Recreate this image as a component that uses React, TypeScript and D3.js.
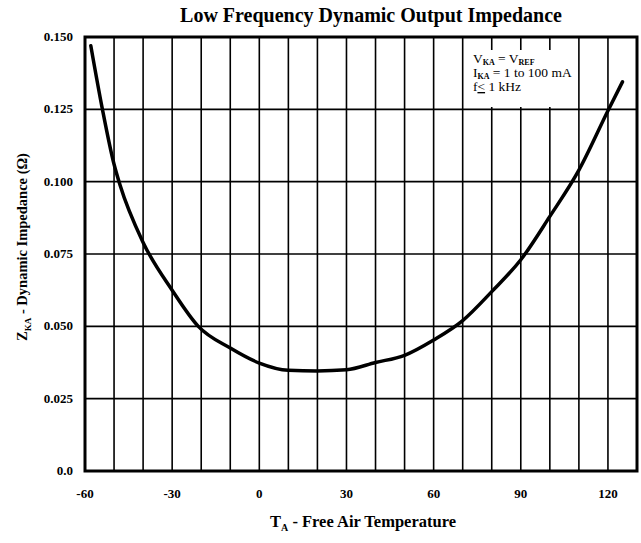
import React from 'react';
import * as d3 from 'd3';

const temps = [-58, -54, -50, -48, -40, -30, -21, -10, 0, 10, 20, 30, 40, 50, 60, 70, 80, 90, 100, 110, 120, 125];
const impedance = [
  0.147, 0.125, 0.106, 0.099, 0.079, 0.0625, 0.05, 0.0425, 0.0373, 0.0348, 0.0346, 0.035, 0.0375, 0.04,
  0.0453, 0.052, 0.062, 0.073, 0.088, 0.104, 0.1245, 0.1345,
];
const xTicks = [-60, -30, 0, 30, 60, 90, 120];
const yTicks = [0, 0.025, 0.05, 0.075, 0.1, 0.125, 0.15];
const yTickLabels = ['0.0', '0.025', '0.050', '0.075', '0.100', '0.125', '0.150'];

const W = 641;
const H = 543;
const margin = { top: 37, right: 4, bottom: 72, left: 85 };
const font = '"Liberation Serif", "Times New Roman", serif';

const App: React.FC = () => {
  const x = d3.scaleLinear().domain([-60, 130]).range([margin.left, W - margin.right]);
  const y = d3.scaleLinear().domain([0, 0.15]).range([H - margin.bottom, margin.top]);

  const gridX = d3.range(-50, 130, 10);
  const gridY = yTicks.slice(1, -1);

  const pts = temps.map((t, i) => [t, impedance[i]] as [number, number]);
  const line = d3
    .line<[number, number]>()
    .x((d) => x(d[0]))
    .y((d) => y(d[1]))
    .curve(d3.curveMonotoneX);

  const x0 = x(-60);
  const x1 = x(130);
  const y0 = y(0);
  const y1 = y(0.15);

  // white box behind the note
  const boxX = x(72.5);
  const boxW = x(107.5) - boxX;

  return (
    <svg
      width={W}
      height={H}
      style={{ position: 'absolute', left: 0, top: 0, background: '#fff' }}
      fontFamily={font}
    >
      <rect x={0} y={0} width={W} height={H} fill="#fff" />
      <text x={371} y={22} textAnchor="middle" fontSize={20} fontWeight="bold">
        Low Frequency Dynamic Output Impedance
      </text>

      {gridX.map((t) => (
        <line key={'gx' + t} x1={x(t)} x2={x(t)} y1={y1} y2={y0} stroke="#000" strokeWidth={1.6} />
      ))}
      {gridY.map((v) => (
        <line key={'gy' + v} x1={x0} x2={x1} y1={y(v)} y2={y(v)} stroke="#000" strokeWidth={1.6} />
      ))}

      <rect x={boxX} y={50} width={boxW} height={57} fill="#fff" />
      <g fontSize={13.5} fill="#000">
        <text x={boxX + 3} y={63}>
          V<tspan fontSize={8} fontWeight="bold" dy={2}>KA</tspan>
          <tspan dy={-2}> = V</tspan>
          <tspan fontSize={8} fontWeight="bold" dy={2}>REF</tspan>
        </text>
        <text x={boxX + 3} y={77}>
          I<tspan fontSize={8} fontWeight="bold" dy={2}>KA</tspan>
          <tspan dy={-2}> = 1 to 100 mA</tspan>
        </text>
        <text x={boxX + 3} y={91}>
          f<tspan textDecoration="underline">{'<'}</tspan> 1 kHz
        </text>
      </g>

      <path d={line(pts) ?? ''} fill="none" stroke="#000" strokeWidth={3.5} strokeLinejoin="round" strokeLinecap="round" />

      <rect x={x0} y={y1} width={x1 - x0} height={y0 - y1} fill="none" stroke="#000" strokeWidth={3} />

      <g fontSize={13} fontWeight="bold" textAnchor="end">
        {yTicks.map((v, i) => (
          <text key={'yl' + v} x={x0 - 12} y={y(v) + 4}>
            {yTickLabels[i]}
          </text>
        ))}
      </g>
      <g fontSize={13} fontWeight="bold" textAnchor="middle">
        {xTicks.map((t) => (
          <text key={'xl' + t} x={x(t)} y={y0 + 27}>
            {t}
          </text>
        ))}
      </g>

      <text x={(x0 + x1) / 2 + 2} y={y0 + 56} textAnchor="middle" fontSize={16.5} fontWeight="bold">
        T<tspan fontSize={10} dy={4}>A</tspan>
        <tspan dy={-4}> - Free Air Temperature</tspan>
      </text>

      <text
        transform={`translate(27, ${(y0 + y1) / 2 - 7}) rotate(-90)`}
        textAnchor="middle"
        fontSize={14.5}
        fontWeight="bold"
      >
        Z<tspan fontSize={9} dy={4}>KA</tspan>
        <tspan dy={-4}> - Dynamic Impedance (Ω)</tspan>
      </text>
    </svg>
  );
};

export default App;
